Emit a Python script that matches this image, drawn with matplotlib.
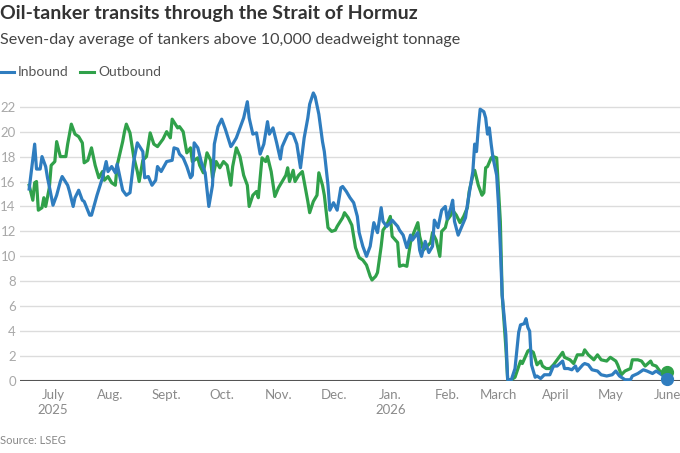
import matplotlib
matplotlib.use("Agg")
import matplotlib.pyplot as plt
import matplotlib.dates as mdates
import numpy as np
import pandas as pd

plt.rcParams['font.family'] = ['Lato', 'DejaVu Sans']

title = "Oil-tanker transits through the Strait of Hormuz"
subtitle = "Seven-day average of tankers above 10,000 deadweight tonnage"
source = "Source: LSEG"
series_names = ["Inbound", "Outbound"]

# days since 2025-07-01
inbound_days = [-13, -10, -9, -7, -6, -4, -3, -2, 0, 2, 4, 5, 8, 9, 11, 12, 14, 16, 17, 20, 21, 24, 27, 29, 30,
                32, 34, 35, 37, 38, 40, 42, 44, 46, 49, 50, 52, 54, 56, 57, 59, 62, 65, 66, 68, 69, 71, 73, 75,
                76, 77, 79, 81, 83, 85, 87, 88, 90, 92, 94, 97, 98, 100, 103, 104, 106, 107, 109, 111, 113,
                115, 117, 118, 120, 122, 124, 125, 128, 129, 131, 133, 135, 137, 139, 140, 142, 143, 145, 147,
                148, 150, 151, 153, 155, 157, 158, 160, 162, 164, 166, 167, 169, 171, 173, 175, 177, 179, 180,
                182, 184, 185, 188, 189, 191, 193, 195, 196, 199, 200, 201, 203, 205, 207, 208, 210, 212, 214,
                215, 217, 218, 219, 221, 223, 225, 226, 229, 230, 231, 232, 233, 235, 236, 237, 238, 239, 240,
                242, 243, 244, 245, 247, 248, 250, 252, 254, 255, 257, 258, 259, 260, 261, 263, 264, 266, 268,
                271, 273, 275, 278, 279, 281, 283, 285, 286, 289, 290, 292, 294, 297, 299, 302, 305, 307, 309,
                312, 315, 316, 319, 322, 324, 327, 329, 332, 335]
inbound_vals = [15.4, 19.0, 17.0, 17.0, 18.0, 17.2, 16.3, 15.6, 14.1, 14.9, 16.0, 16.4, 15.7, 15.2, 14.0, 14.7,
                15.3, 14.5, 14.4, 13.3, 13.3, 14.9, 16.3, 17.6, 16.8, 17.2, 16.7, 17.4, 16.0, 15.3, 14.9, 15.1,
                17.6, 19.1, 18.4, 16.3, 16.4, 15.7, 16.1, 17.2, 16.8, 17.6, 17.7, 18.7, 18.6, 18.2, 17.9, 17.2,
                16.3, 16.5, 19.1, 18.7, 17.5, 16.7, 14.0, 15.7, 19.0, 20.4, 21.0, 20.2, 18.8, 19.0, 19.5, 20.7,
                21.1, 22.4, 21.1, 19.8, 19.9, 18.2, 19.0, 20.8, 19.8, 20.3, 19.1, 17.8, 18.8, 19.8, 19.9, 19.8,
                19.0, 17.1, 19.5, 21.1, 22.2, 23.1, 22.8, 21.4, 19.2, 18.4, 15.7, 13.7, 14.3, 13.7, 15.5, 15.6,
                15.2, 14.7, 14.3, 13.2, 11.9, 10.8, 10.0, 10.8, 12.7, 11.9, 13.9, 12.8, 12.4, 12.7, 12.9, 12.4,
                12.1, 11.7, 10.7, 11.7, 11.3, 11.9, 10.5, 10.0, 11.2, 10.3, 10.8, 12.9, 12.3, 13.7, 14.0, 13.0,
                13.9, 14.5, 12.8, 11.7, 12.4, 13.1, 14.1, 16.8, 19.0, 18.4, 20.3, 21.8, 21.6, 21.1, 19.8, 20.3,
                19.0, 17.9, 16.5, 14.1, 10.7, 6.9, 3.7, 0.1, 0.1, 1.0, 3.9, 4.5, 4.6, 5.0, 4.3, 4.0, 1.3, 0.3,
                0.4, 0.2, 0.5, 0.5, 1.2, 1.2, 1.6, 1.0, 1.0, 0.9, 1.2, 0.8, 1.3, 1.4, 1.3, 0.9, 0.8, 0.5, 0.4,
                0.5, 0.8, 0.4, 0.1, 0.1, 0.4, 0.6, 0.9, 0.8, 0.6, 0.8, 0.5, 0.2]

outbound_days = [-13, -11, -10, -9, -8, -6, -5, -4, -2, -1, 1, 2, 4, 7, 8, 10, 12, 14, 16, 17, 19, 21, 23, 25,
                 27, 28, 30, 32, 34, 35, 38, 39, 40, 42, 44, 46, 47, 49, 51, 53, 55, 57, 58, 60, 62, 64, 65, 68,
                 69, 71, 73, 75, 76, 79, 80, 82, 84, 86, 87, 89, 91, 93, 95, 97, 98, 100, 102, 104, 106, 107,
                 109, 111, 112, 114, 116, 117, 119, 121, 123, 125, 127, 128, 129, 131, 132, 134, 136, 139, 140,
                 142, 144, 145, 147, 148, 150, 152, 154, 155, 158, 159, 161, 163, 165, 167, 169, 171, 173, 174,
                 176, 177, 179, 180, 182, 184, 185, 188, 189, 191, 193, 195, 196, 199, 200, 202, 204, 206, 207,
                 209, 211, 212, 214, 215, 217, 218, 220, 222, 224, 226, 227, 229, 230, 232, 234, 235, 236, 237,
                 239, 240, 242, 244, 245, 247, 248, 250, 252, 255, 256, 259, 260, 262, 264, 266, 267, 269, 271,
                 273, 275, 278, 279, 282, 284, 286, 289, 290, 292, 295, 297, 299, 302, 304, 307, 308, 310, 312,
                 315, 316, 319, 321, 323, 326, 327, 329, 331, 334, 335]
outbound_vals = [15.7, 14.5, 15.9, 16.0, 13.7, 13.9, 14.7, 14.0, 15.5, 17.3, 17.6, 19.2, 18.0, 18.0, 19.0, 20.6,
                 19.8, 19.6, 19.1, 17.5, 17.7, 18.7, 17.3, 16.3, 16.8, 16.1, 16.4, 15.9, 15.7, 17.3, 19.2, 20.0,
                 20.6, 19.9, 18.0, 16.8, 16.0, 17.7, 18.0, 19.9, 19.0, 18.8, 19.0, 19.4, 20.0, 19.5, 21.0, 20.3,
                 20.4, 20.0, 18.3, 18.7, 17.6, 17.9, 17.3, 16.7, 18.3, 17.7, 16.3, 17.6, 17.1, 17.6, 17.3, 15.7,
                 17.2, 18.7, 18.0, 16.5, 15.7, 14.0, 14.9, 15.2, 14.7, 17.9, 17.6, 18.0, 16.8, 14.8, 15.5, 16.0,
                 16.5, 17.1, 16.0, 16.9, 16.0, 16.5, 16.8, 14.4, 13.5, 14.4, 14.9, 16.7, 15.7, 14.9, 12.3, 12.0,
                 12.1, 12.4, 13.1, 13.5, 13.1, 12.5, 10.7, 9.9, 9.7, 9.3, 8.4, 8.1, 8.4, 8.7, 10.8, 12.1, 12.5,
                 13.2, 11.6, 11.1, 9.2, 9.3, 9.2, 11.1, 11.6, 12.7, 11.6, 10.5, 10.8, 11.1, 11.9, 11.3, 10.0,
                 12.0, 12.3, 12.9, 13.3, 13.7, 13.3, 12.7, 13.2, 13.9, 15.2, 16.5, 16.9, 15.7, 14.9, 15.1, 17.1,
                 17.2, 17.9, 18.0, 17.9, 12.8, 6.9, 2.7, 0.1, 0.1, 0.3, 1.6, 1.4, 2.4, 2.5, 2.3, 1.3, 1.6, 1.2,
                 1.0, 1.0, 1.3, 1.7, 2.3, 1.9, 1.7, 1.4, 2.1, 2.1, 2.5, 2.1, 1.7, 2.1, 1.7, 1.6, 1.9, 1.6, 1.3,
                 0.5, 0.8, 1.0, 1.7, 1.7, 1.6, 1.2, 1.6, 1.3, 1.2, 0.8, 0.5, 0.7]

month_labels = ["July\n2025", "Aug.", "Sept.", "Oct.", "Nov.", "Dec.", "Jan.\n2026", "Feb.", "March",
                "April", "May", "June"]
month_starts = pd.date_range("2025-07-01", "2026-06-01", freq="MS")
y_ticks = [0, 2, 4, 6, 8, 10, 12, 14, 16, 18, 20, 22]

origin = pd.Timestamp("2025-07-01")
in_dates = origin + pd.to_timedelta(inbound_days, unit="D")
out_dates = origin + pd.to_timedelta(outbound_days, unit="D")

BLUE = "#2f7dbf"
GREEN = "#30a14a"

fig = plt.figure(figsize=(6.8, 4.53), dpi=100)
ax = fig.add_axes([20/680, (453-381)/453, 660/680, (381-88)/453])

ax.plot(out_dates, outbound_vals, color=GREEN, lw=2.3, solid_joinstyle="round", zorder=3)
ax.plot(in_dates, inbound_vals, color=BLUE, lw=2.3, solid_joinstyle="round", zorder=4)
ax.plot(out_dates[-1:], outbound_vals[-1:], "o", color=GREEN, ms=8.5, clip_on=False, zorder=5)
ax.plot(in_dates[-1:], inbound_vals[-1:], "o", color=BLUE, ms=8.5, clip_on=False, zorder=6)

ax.set_xlim(origin - pd.Timedelta(days=18), origin + pd.Timedelta(days=342))
ax.set_ylim(0, 23.5)

for s in ax.spines.values():
    s.set_visible(False)
ax.set_yticks(y_ticks)
ax.set_yticklabels([str(v) for v in y_ticks])
ax.yaxis.grid(True, color="#dcdcdc", lw=1.0)
ax.set_axisbelow(True)
ax.axhline(0, color="#555555", lw=1.5, zorder=2)
ax.tick_params(axis="y", length=0, pad=3, labelsize=9.5, labelcolor="#a8a8a8")

ax.set_xticks(month_starts)
ax.set_xticklabels(month_labels, linespacing=1.25)
ax.tick_params(axis="x", length=0, pad=6, labelsize=9.5, labelcolor="#8a8a8a")

fig.text(0.0, 1 - 14/453, title, fontsize=14, fontweight="bold", color="#333333", va="center", ha="left")
fig.text(0.0, 1 - 40/453, subtitle, fontsize=11.6, color="#444444", va="center", ha="left")

# legend
ly = 1 - 72/453
fig.add_artist(plt.Line2D([0/680, 14/680], [ly, ly], color=BLUE, lw=2.2, transform=fig.transFigure))
fig.text(18/680, ly, series_names[0], fontsize=10, color="#555555", va="center", ha="left")
fig.add_artist(plt.Line2D([80/680, 94/680], [ly, ly], color=GREEN, lw=2.2, transform=fig.transFigure))
fig.text(98/680, ly, series_names[1], fontsize=10, color="#555555", va="center", ha="left")

fig.text(0.0, 1 - 440/453, source, fontsize=8, color="#888888", va="center", ha="left")

fig.savefig("out.png", dpi=100)
